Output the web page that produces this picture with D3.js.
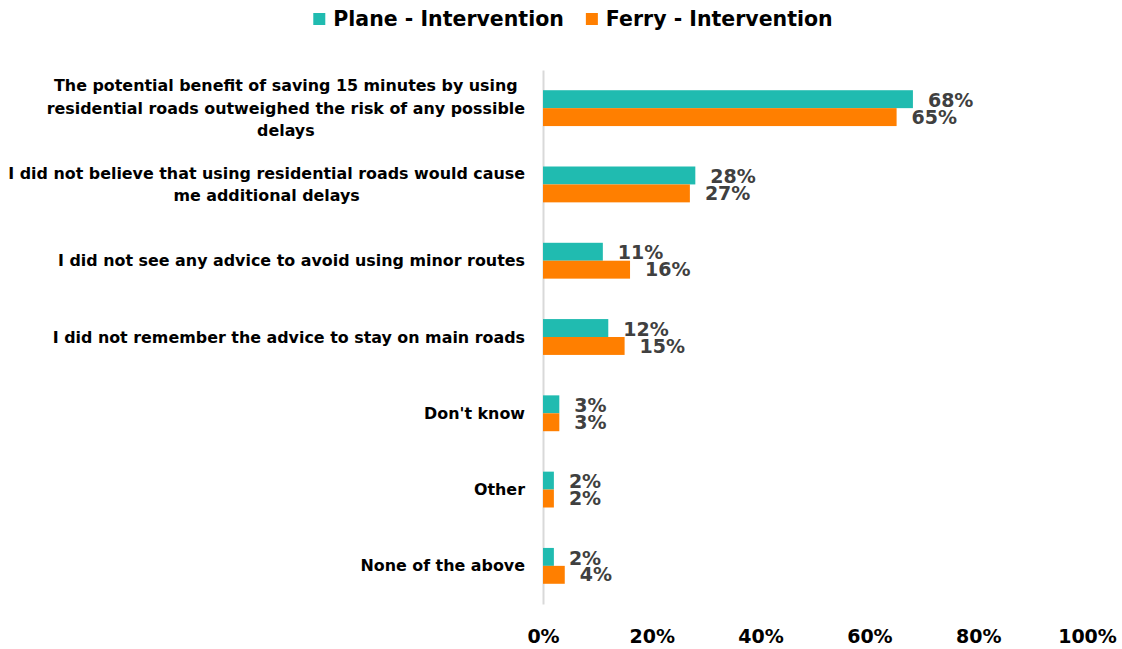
<!DOCTYPE html>
<html>
<head>
<meta charset="utf-8">
<script src="https://cdn.jsdelivr.net/npm/d3@7"></script>
<style>
  html, body { margin: 0; padding: 0; background: #fff; }
  svg { display: block; font-family: "DejaVu Sans", "Liberation Sans", sans-serif; font-weight: bold; }
</style>
</head>
<body>
<svg id="chart" width="1122" height="649"></svg>
<script>
// Reasons given for using residential roads, by intervention group (%)
const categories = [
  ["The potential benefit of saving 15 minutes by using", "residential roads outweighed the risk of any possible", "delays"],
  ["I did not believe that using residential roads would cause", "me additional delays"],
  ["I did not see any advice to avoid using minor routes"],
  ["I did not remember the advice to stay on main roads"],
  ["Don't know"],
  ["Other"],
  ["None of the above"]
];
const seriesNames = ["Plane - Intervention", "Ferry - Intervention"];
const planeValues = [68, 28, 11, 12, 3, 2, 2];
const ferryValues = [65, 27, 16, 15, 3, 2, 4];
const tickValues = [0, 20, 40, 60, 80, 100];
const colors = ["#20BBB0", "#FF7F00"];

const svg = d3.select("#chart");
const keys = categories.map((c, i) => "c" + i);

const x = d3.scaleLinear().domain([0, 100]).range([543, 1087]);
const y = d3.scaleBand().domain(keys).range([70, 604]).paddingInner(0.53).paddingOuter(0.265);
const ySub = d3.scaleBand().domain(seriesNames).range([0, y.bandwidth()]);
const color = d3.scaleOrdinal().domain(seriesNames).range(colors);

const rows = keys.map((k, i) => ({
  key: k,
  lines: categories[i],
  values: [
    { series: seriesNames[0], value: planeValues[i] },
    { series: seriesNames[1], value: ferryValues[i] }
  ]
}));

// vertical baseline
const yAxis = svg.append("g")
  .attr("transform", `translate(${x(0)},0)`)
  .call(d3.axisLeft(y).tickSize(0).tickFormat(""));
yAxis.select(".domain").attr("stroke", "#d9d9d9").attr("stroke-width", 2);

// x axis labels
const xAxis = svg.append("g")
  .attr("transform", "translate(0,636)")
  .call(d3.axisBottom(x).tickValues(tickValues).tickSize(0).tickFormat(d => d + "%"));
xAxis.select(".domain").remove();
xAxis.selectAll("text")
  .attr("dy", "0.35em").attr("y", 0)
  .attr("fill", "#000")
  .style("font-size", "19px").style("font-family", "DejaVu Sans").style("font-weight", "bold");

// bars
const groups = svg.append("g").selectAll("g")
  .data(rows).join("g")
  .attr("transform", d => `translate(0,${y(d.key)})`);

groups.selectAll("rect")
  .data(d => d.values).join("rect")
  .attr("x", x(0))
  .attr("y", d => ySub(d.series))
  .attr("width", d => x(d.value) - x(0))
  .attr("height", ySub.bandwidth())
  .attr("fill", d => color(d.series));

// value labels, one beside each bar
groups.selectAll("text.val")
  .data(d => d.values).join("text")
  .attr("class", "val")
  .attr("x", d => x(d.value) + 15)
  .attr("y", (d, i) => ySub(d.series) + ySub.bandwidth() / 2 + (i === 0 ? 1 : 0))
  .attr("dy", "0.35em")
  .attr("fill", "#404040")
  .style("font-size", "19px")
  .text(d => d.value + "%");

// category labels: lines centred within a block right-aligned to the axis
const labelRight = 525;
const lineH = 22.5;
rows.forEach(r => {
  const t = svg.append("text")
    .attr("text-anchor", "middle")
    .attr("fill", "#000")
    .style("font-size", "15.9px");
  const n = r.lines.length;
  const cy = y(r.key) + y.bandwidth() / 2;
  r.lines.forEach((ln, j) => {
    t.append("tspan")
      .attr("y", cy + (j - (n - 1) / 2) * lineH)
      .attr("dy", "0.35em")
      .text(ln);
  });
  let w = 0;
  t.selectAll("tspan").each(function () { w = Math.max(w, this.getComputedTextLength()); });
  t.selectAll("tspan").attr("x", labelRight - w / 2);
});

// legend
const legend = svg.append("g");
let lx = 0;
seriesNames.forEach((s, i) => {
  const g = legend.append("g").attr("transform", `translate(${lx},0)`);
  g.append("rect").attr("x", 0).attr("y", 13).attr("width", 12).attr("height", 12).attr("fill", color(s));
  const t = g.append("text").attr("x", 20).attr("y", 19).attr("dy", "0.35em")
    .attr("fill", "#000").style("font-size", "20.5px").text(s);
  lx += 20 + t.node().getComputedTextLength() + 22;
});
const legW = lx - 22;
legend.attr("transform", `translate(${573 - legW / 2},0)`);
</script>
</body>
</html>
